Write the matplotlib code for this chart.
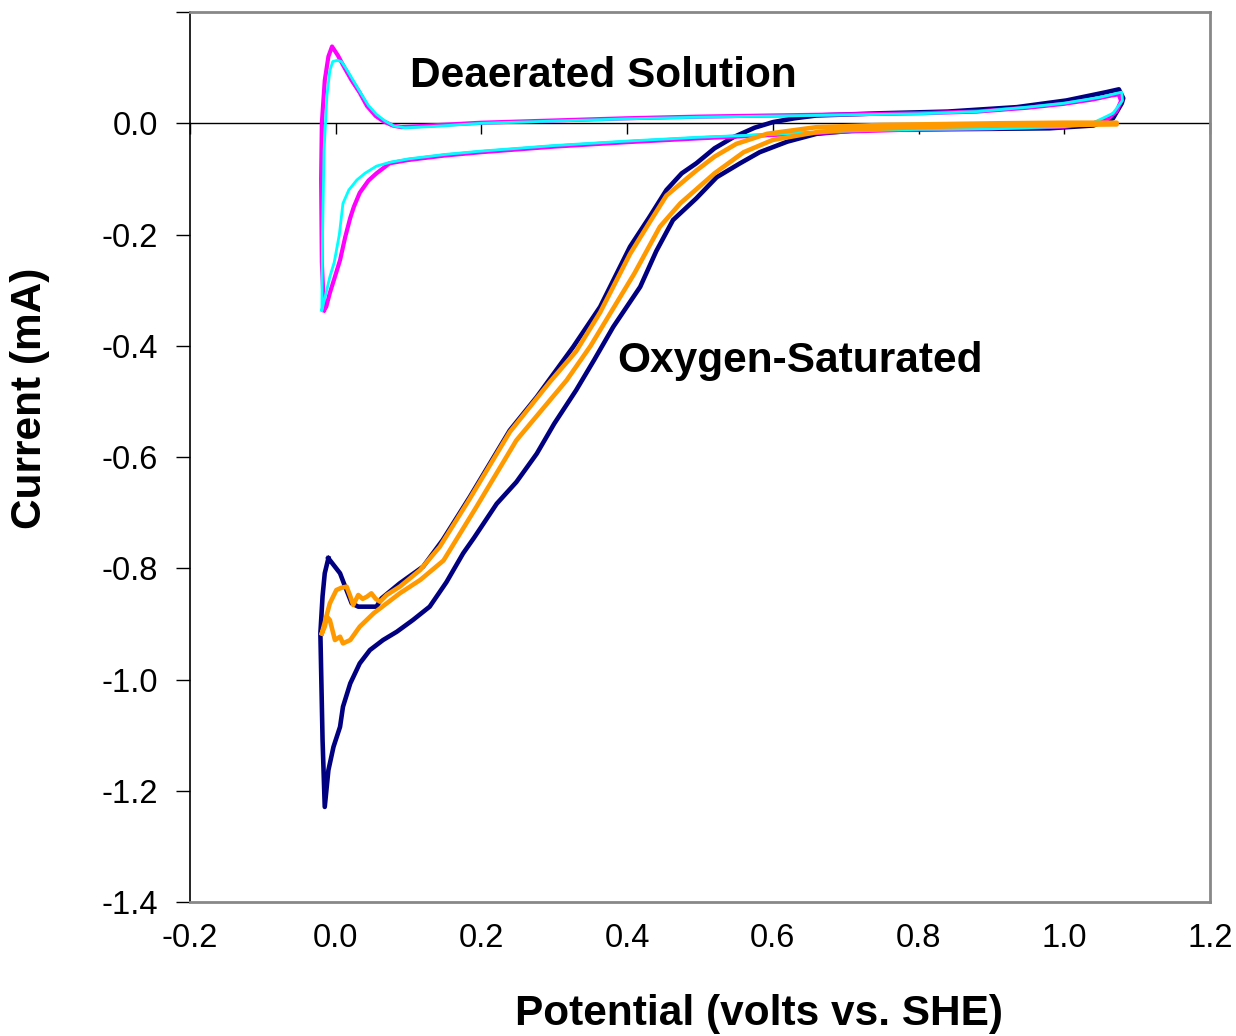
import numpy as np
import matplotlib
matplotlib.use("Agg")
import matplotlib.pyplot as plt

plt.rcParams['font.family'] = ['Liberation Sans', 'DejaVu Sans']

# deaerated solution, scan 1 (magenta)
deaer1_v = [-0.016, -0.019, -0.020, -0.019, -0.015, -0.010, -0.005, 0.003, 0.012, 0.022, 0.033, 0.043,
            0.055, 0.065, 0.078, 0.090, 0.13, 0.20, 0.30, 0.40, 0.50, 0.60, 0.70, 0.80, 0.88, 0.95,
            1.00, 1.04, 1.065, 1.075, 1.078, 1.072, 1.060, 1.04, 1.00, 0.90, 0.80, 0.70, 0.60, 0.50,
            0.40, 0.30, 0.20, 0.15, 0.10, 0.074, 0.056, 0.045, 0.033, 0.025, 0.020, 0.013, 0.006,
            -0.002, -0.008, -0.013, -0.016]
deaer1_i = [-0.336, -0.25, -0.10, 0.0, 0.077, 0.120, 0.138, 0.122, 0.100, 0.077, 0.055, 0.031,
            0.013, 0.004, -0.004, -0.007, -0.004, 0.001, 0.005, 0.009, 0.012, 0.014, 0.016, 0.018, 0.021, 0.028,
            0.035, 0.043, 0.050, 0.052, 0.040, 0.022, 0.008, 0.000, -0.006, -0.009, -0.011, -0.015, -0.021, -0.027,
            -0.034, -0.042, -0.052, -0.058, -0.066, -0.072, -0.090, -0.103, -0.125, -0.150, -0.170, -0.205, -0.246,
            -0.28, -0.305, -0.33, -0.336]

# deaerated solution, scan 2 (cyan)
deaer2_v = [-0.019, -0.018, -0.016, -0.012, -0.008, -0.004, 0.002, 0.008, 0.015, 0.025, 0.035, 0.045,
            0.056, 0.068, 0.080, 0.095, 0.13, 0.20, 0.30, 0.40, 0.50, 0.60, 0.70, 0.80, 0.88, 0.95,
            1.00, 1.05, 1.079, 1.080, 1.067, 1.04, 1.00, 0.90, 0.80, 0.70, 0.60, 0.50, 0.40, 0.30,
            0.20, 0.15, 0.10, 0.075, 0.056, 0.040, 0.029, 0.018, 0.010, 0.005, -0.002, -0.008, -0.015, -0.019]
deaer2_i = [-0.336, -0.2, -0.05, 0.05, 0.095, 0.111, 0.113, 0.111, 0.097, 0.075, 0.053, 0.032,
            0.016, 0.004, -0.005, -0.008, -0.006, 0.000, 0.004, 0.008, 0.011, 0.013, 0.015, 0.017, 0.021, 0.029,
            0.036, 0.047, 0.056, 0.041, 0.018, 0.001, -0.006, -0.010, -0.011, -0.014, -0.020, -0.025, -0.032, -0.040,
            -0.050, -0.056, -0.064, -0.070, -0.077, -0.090, -0.102, -0.120, -0.144, -0.20, -0.25, -0.276, -0.315, -0.336]

# oxygen-saturated, scan 1 (navy)
oxy1_v = [-0.010, 0.006, 0.013, 0.022, 0.031, 0.056, 0.063, 0.088, 0.12, 0.147, 0.184, 0.239, 0.276,
          0.326, 0.363, 0.404, 0.430, 0.454, 0.475, 0.495, 0.520, 0.546, 0.575, 0.60, 0.63, 0.66, 0.75,
          0.84, 0.935, 1.003, 1.058, 1.075, 1.081, 1.079, 1.067, 1.04, 0.98, 0.90, 0.80, 0.729, 0.66,
          0.62, 0.582, 0.555, 0.523, 0.495, 0.463, 0.440, 0.418, 0.381, 0.355, 0.33, 0.30, 0.276, 0.248,
          0.221, 0.19, 0.175, 0.152, 0.129, 0.106, 0.084, 0.065, 0.047, 0.033, 0.020, 0.010, 0.006,
          -0.003, -0.010, -0.015, -0.018, -0.021, -0.018, -0.015, -0.010]
oxy1_i = [-0.782, -0.809, -0.833, -0.863, -0.869, -0.869, -0.854, -0.827, -0.797, -0.749, -0.672, -0.552, -0.492,
          -0.402, -0.330, -0.222, -0.17, -0.120, -0.09, -0.072, -0.045, -0.025, -0.008, 0.002, 0.009, 0.014, 0.018,
          0.021, 0.029, 0.041, 0.056, 0.061, 0.045, 0.036, 0.009, -0.004, -0.009, -0.010, -0.011, -0.011, -0.019,
          -0.033, -0.052, -0.072, -0.097, -0.135, -0.174, -0.23, -0.294, -0.366, -0.425, -0.48, -0.54, -0.594, -0.645,
          -0.684, -0.745, -0.773, -0.825, -0.869, -0.893, -0.914, -0.929, -0.947, -0.971, -1.007, -1.049, -1.085,
          -1.121, -1.163, -1.229, -1.109, -0.917, -0.85, -0.809, -0.782]

# oxygen-saturated, scan 2 (orange)
oxy2_v = [-0.019, -0.008, 0.001, 0.008, 0.015, 0.020, 0.024, 0.031, 0.037, 0.043, 0.049, 0.055, 0.061,
          0.070, 0.088, 0.116, 0.143, 0.184, 0.239, 0.294, 0.33, 0.363, 0.404, 0.430, 0.454, 0.495, 0.52,
          0.55, 0.592, 0.66, 0.75, 0.912, 1.0, 1.072, 1.072, 1.0, 0.90, 0.80, 0.70, 0.66, 0.60, 0.56,
          0.52, 0.473, 0.445, 0.41, 0.38, 0.35, 0.317, 0.294, 0.248, 0.193, 0.148, 0.116, 0.088, 0.052,
          0.033, 0.020, 0.010, 0.006, -0.001, -0.008, -0.012, -0.015, -0.019]
oxy2_i = [-0.917, -0.863, -0.839, -0.835, -0.833, -0.850, -0.866, -0.848, -0.855, -0.851, -0.845, -0.855, -0.860,
          -0.848, -0.833, -0.803, -0.761, -0.675, -0.555, -0.465, -0.41, -0.34, -0.235, -0.18, -0.13, -0.085, -0.06,
          -0.037, -0.019, -0.007, -0.003, 0.0, 0.001, 0.001, -0.002, -0.003, -0.004, -0.007, -0.012, -0.016, -0.03, -0.052,
          -0.09, -0.144, -0.186, -0.27, -0.335, -0.40, -0.462, -0.498, -0.570, -0.690, -0.786, -0.821, -0.845, -0.881,
          -0.905, -0.929, -0.935, -0.923, -0.929, -0.893, -0.887, -0.905, -0.917]

x_ticks = [-0.2, 0.0, 0.2, 0.4, 0.6, 0.8, 1.0, 1.2]
x_labels = ['-0.2', '0.0', '0.2', '0.4', '0.6', '0.8', '1.0', '1.2']
y_ticks = [-1.4, -1.2, -1.0, -0.8, -0.6, -0.4, -0.2, 0.0, 0.2]
y_labels = ['-1.4', '-1.2', '-1.0', '-0.8', '-0.6', '-0.4', '-0.2', '0.0', '']

fig = plt.figure(figsize=(12.36, 10.36), dpi=100)
ax = fig.add_axes([0.1537, 0.1293, 0.8252, 0.8591])

ax.plot(oxy1_v, oxy1_i, color='#000080', lw=3.3, zorder=3)
ax.plot(deaer1_v, deaer1_i, color='#FF00FF', lw=3.0, zorder=3)
ax.plot(deaer2_v, deaer2_i, color='#00FFFF', lw=2.0, zorder=4)
ax.plot(oxy2_v, oxy2_i, color='#FF9900', lw=3.3, zorder=5)

ax.set_xlim(-0.2, 1.2)
ax.set_ylim(-1.4, 0.2)

ax.set_xticks(x_ticks)
ax.set_xticklabels(x_labels)
ax.set_yticks(y_ticks)
ax.set_yticklabels(y_labels)
ax.tick_params(axis='x', length=0, pad=15, labelsize=23.5)
ax.tick_params(axis='y', direction='out', length=10, width=1, pad=13, labelsize=23.5, color='k')

for s in ['top', 'right', 'bottom']:
    ax.spines[s].set_color('#888888')
    ax.spines[s].set_linewidth(2)
ax.spines['left'].set_color('black')
ax.spines['left'].set_linewidth(1.2)

# x axis line crossing at zero current
zero_ax = ax.secondary_xaxis(0, transform=ax.transData)
zero_ax.set_xticks(x_ticks)
zero_ax.tick_params(direction='out', length=8, width=1, labelbottom=False, color='k')
zero_ax.spines['bottom'].set_color('black')
zero_ax.spines['bottom'].set_linewidth(1)

ax.set_xlabel('Potential (volts vs. SHE)', fontsize=30.5, fontweight='bold')
ax.set_ylabel('Current (mA)', fontsize=30.5, fontweight='bold')
ax.xaxis.set_label_coords(0.558, -0.103)
ax.yaxis.set_label_coords(-0.137, 0.566)

ax.text(0.102, 0.085, 'Deaerated Solution', fontsize=30.5, fontweight='bold', va='center', ha='left')
ax.text(0.386, -0.427, 'Oxygen-Saturated', fontsize=30.5, fontweight='bold', va='center', ha='left')

fig.savefig('out.png', dpi=100)
